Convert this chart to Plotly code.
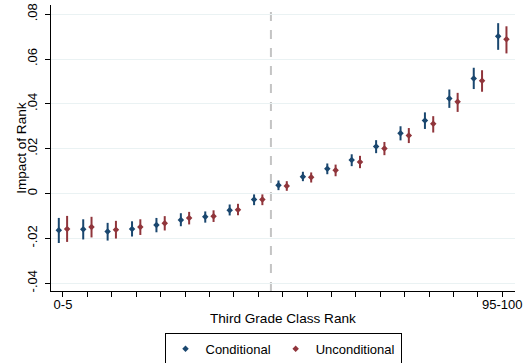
import plotly.graph_objects as go

# ---- data ----
rank_labels = ["0-5"] + [""] * 17 + ["95-100"]
cond_est = [-0.0164, -0.0159, -0.0170, -0.0158, -0.0140, -0.0118, -0.0104, -0.0075, -0.0027,
            0.0037, 0.0075, 0.0110, 0.0149, 0.0210, 0.0269, 0.0326, 0.0424, 0.0513, 0.0702]
cond_hi = [-0.0109, -0.0115, -0.0131, -0.0124, -0.0109, -0.0088, -0.0080, -0.0049, -0.0004,
           0.0058, 0.0097, 0.0134, 0.0175, 0.0238, 0.0300, 0.0362, 0.0464, 0.0561, 0.0760]
cond_lo = [-0.0221, -0.0205, -0.0210, -0.0192, -0.0173, -0.0146, -0.0130, -0.0098, -0.0052,
           0.0015, 0.0055, 0.0086, 0.0122, 0.0180, 0.0237, 0.0288, 0.0382, 0.0466, 0.0641]
unc_est = [-0.0158, -0.0149, -0.0162, -0.0149, -0.0133, -0.0109, -0.0101, -0.0073, -0.0027,
           0.0034, 0.0073, 0.0104, 0.0140, 0.0201, 0.0259, 0.0311, 0.0409, 0.0503, 0.0688]
unc_hi = [-0.0100, -0.0104, -0.0122, -0.0115, -0.0101, -0.0082, -0.0075, -0.0046, -0.0004,
          0.0055, 0.0094, 0.0129, 0.0168, 0.0230, 0.0292, 0.0345, 0.0449, 0.0550, 0.0746]
unc_lo = [-0.0216, -0.0196, -0.0201, -0.0185, -0.0165, -0.0138, -0.0127, -0.0097, -0.0052,
          0.0012, 0.0049, 0.0077, 0.0113, 0.0171, 0.0225, 0.0272, 0.0364, 0.0454, 0.0625]
y_tick_vals = [-0.04, -0.02, 0, 0.02, 0.04, 0.06, 0.08]
y_tick_text = ["-.04", "-.02", "0", ".02", ".04", ".06", ".08"]
x_title = "Third Grade Class Rank"
y_title = "Impact of Rank"

NAVY = "#1a476f"
MAROON = "#90353b"
n = len(cond_est)
pos = list(range(n))
off = 0.17

fig = go.Figure()

def add_series(name, est, hi, lo, color, shift):
    fig.add_trace(go.Scatter(
        x=[p + shift for p in pos], y=est, mode="markers", name=name,
        marker=dict(symbol="diamond", size=5, color=color),
        error_y=dict(type="data", symmetric=False,
                     array=[h - e for h, e in zip(hi, est)],
                     arrayminus=[e - l for e, l in zip(est, lo)],
                     color=color, thickness=2, width=0),
    ))

add_series("Conditional", cond_est, cond_hi, cond_lo, NAVY, -off)
add_series("Unconditional", unc_est, unc_hi, unc_lo, MAROON, off)

fig.add_shape(type="line", xref="x", yref="paper", x0=8.52, x1=8.52, y0=0, y1=1,
              line=dict(color="#c4c4c4", width=2, dash="dash"), layer="below")
fig.add_shape(type="line", xref="paper", yref="y", x0=0, x1=1, y0=0, y1=0,
              line=dict(color="#c86b78", width=1), layer="below")

fig.add_annotation(text=y_title, xref="paper", yref="paper", x=-0.065, y=0.5,
                   xanchor="center", yanchor="middle", textangle=-90, showarrow=False,
                   font=dict(size=13.6))
fig.add_annotation(text=x_title, xref="paper", yref="paper", x=0.5, y=-0.096,
                   xanchor="center", yanchor="middle", showarrow=False,
                   font=dict(size=13.6))

font = dict(family="Liberation Sans, Arial, sans-serif", size=13, color="#000000")
fig.update_layout(
    width=527, height=363,
    margin=dict(l=51, r=12, t=5, b=72, autoexpand=False),
    paper_bgcolor="white", plot_bgcolor="white",
    font=font,
    showlegend=True,
    legend=dict(orientation="h", x=0.5, xanchor="center", y=-0.146, yanchor="top",
                bordercolor="#000000", borderwidth=1, font=dict(size=13),
                itemsizing="trace", tracegroupgap=0),
    xaxis=dict(range=[-0.49, 18.52], tickmode="array", tickvals=pos, ticktext=rank_labels,
               ticks="outside", ticklen=5, tickcolor="#000", showline=True, linecolor="#000",
               linewidth=1, showgrid=False, zeroline=False, automargin=False,
               ticklabelstandoff=-4),
    yaxis=dict(range=[-0.0435, 0.0841], tickmode="array", tickvals=y_tick_vals, ticktext=y_tick_text,
               tickangle=-90, ticks="outside", ticklen=5, tickcolor="#000", showline=True,
               linecolor="#000", linewidth=1, showgrid=True, gridcolor="#eaf2f3", gridwidth=1,
               zeroline=False, automargin=False, ticklabelstandoff=3),
)

fig.write_html("out.html", config={"displayModeBar": False},
               post_script="document.body.style.margin='0';")
